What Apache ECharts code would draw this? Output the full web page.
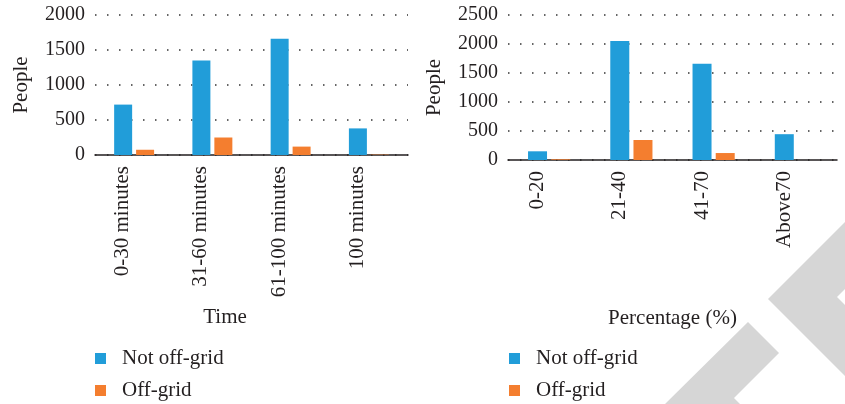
<!DOCTYPE html>
<html>
<head>
<meta charset="utf-8">
<script src="https://cdn.jsdelivr.net/npm/echarts@6/dist/echarts.min.js"></script>
<style>
  html, body { margin: 0; padding: 0; background: #fff; }
  #main { width: 845px; height: 404px; }
</style>
</head>
<body>
<div id="main"></div>
<script>
// left chart - time
var timeCats = ['0-30 minutes', '31-60 minutes', '61-100 minutes', '100 minutes'];
var timeNotOff = [720, 1350, 1660, 380];
var timeOff = [75, 250, 120, 5];
// right chart - percentage
var pctCats = ['0-20', '21-40', '41-70', 'Above70'];
var pctNotOff = [150, 2050, 1660, 445];
var pctOff = [12, 345, 120, 0];

var seriesNames = ['Not off-grid', 'Off-grid'];
var blue = '#219dd9';
var orange = '#f47e2f';
var ink = '#231f20';
var font = '"Liberation Serif", "DejaVu Serif", serif';

var chart = echarts.init(document.getElementById('main'));

function yAxisOf(idx, max, gap) {
    return {
        type: 'value', gridIndex: idx, min: 0, max: max, interval: 500,
        name: 'People', nameLocation: 'middle', nameGap: gap,
        nameTextStyle: { fontFamily: font, fontSize: 21, color: ink },
        axisLine: { show: false },
        axisTick: { show: false },
        axisLabel: { fontFamily: font, fontSize: 20, color: ink, margin: 10,
            formatter: function (v) { return String(v); } },
        splitLine: { lineStyle: { color: '#333', width: 1.5, type: [1.5, 10.5] } }
    };
}

function xAxisOf(idx, cats, name, gap, pad) {
    return {
        type: 'category', gridIndex: idx, data: cats,
        name: name, nameLocation: 'middle', nameGap: gap,
        nameTextStyle: { fontFamily: font, fontSize: 21, color: ink, padding: pad },
        axisLine: { lineStyle: { color: ink, width: 1.5 } },
        axisTick: { show: false },
        axisLabel: {
            rotate: 90, fontFamily: font, fontSize: 21, color: ink,
            margin: 11, verticalAlign: 'bottom', lineHeight: 23, interval: 0
        }
    };
}

function legendOf(left) {
    return {
        orient: 'vertical', left: left, top: 348, height: 80,
        padding: 0,
        itemWidth: 11, itemHeight: 11, itemGap: 11,
        icon: 'rect',
        data: seriesNames,
        textStyle: { fontFamily: font, fontSize: 21, color: ink, padding: [0, 0, 0, 11] }
    };
}

var option = {
    animation: false,
    backgroundColor: '#fff',
    grid: [
        { left: 95, right: 437, top: 15, bottom: 249 },
        { left: 508, right: 8, top: 15, bottom: 244 }
    ],
    xAxis: [
        xAxisOf(0, timeCats, 'Time', 152, [0, 53, 0, 0]),
        xAxisOf(1, pctCats, 'Percentage (%)', 148, [0, 0, 0, 0])
    ],
    yAxis: [
        yAxisOf(0, 2000, 63),
        yAxisOf(1, 2500, 63)
    ],
    legend: [legendOf(95), legendOf(509)],
    series: [
        { name: seriesNames[0], type: 'bar', xAxisIndex: 0, yAxisIndex: 0, data: timeNotOff,
          barWidth: 18, barGap: '22%', itemStyle: { color: blue } },
        { name: seriesNames[1], type: 'bar', xAxisIndex: 0, yAxisIndex: 0, data: timeOff,
          barWidth: 18, barGap: '22%', itemStyle: { color: orange } },
        { name: seriesNames[0], type: 'bar', xAxisIndex: 1, yAxisIndex: 1, data: pctNotOff,
          barWidth: 19, barGap: '22%', itemStyle: { color: blue } },
        { name: seriesNames[1], type: 'bar', xAxisIndex: 1, yAxisIndex: 1, data: pctOff,
          barWidth: 19, barGap: '22%', itemStyle: { color: orange } }
    ],
    // watermark shapes in the lower right corner
    graphic: [
        { type: 'polygon', z: -1, silent: true,
          shape: { points: [[768, 299], [845, 222], [845, 289], [837, 297], [845, 305], [845, 376]] },
          style: { fill: '#d6d6d6' } },
        { type: 'polygon', z: -1, silent: true,
          shape: { points: [[748, 322], [779, 353], [734, 398], [740, 404], [665, 404]] },
          style: { fill: '#d6d6d6' } }
    ]
};

chart.setOption(option);
</script>
</body>
</html>
